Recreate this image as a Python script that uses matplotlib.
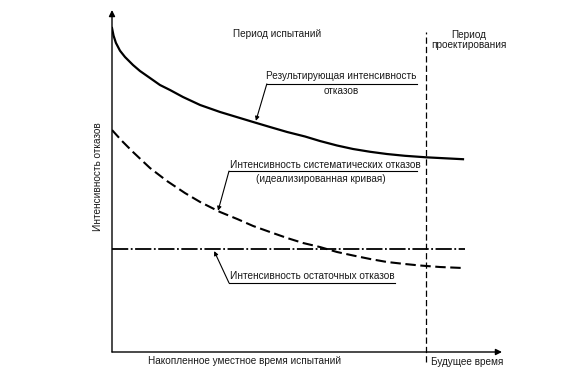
import matplotlib
matplotlib.use("Agg")
import matplotlib.pyplot as plt

plt.rcParams['font.family'] = ['Liberation Sans', 'DejaVu Sans']

# resulting failure intensity (solid)
total_t = [0, 0.04, 0.1, 0.205, 0.333, 0.538, 0.718, 0.974, 1.23, 1.487, 1.82, 2.26, 2.77, 3.28,
           3.62, 4.05, 4.49, 4.95, 5.33, 5.77, 6.18, 6.62, 7.05, 7.51, 8.05, 8.54, 9.0]
total_y = [9.474, 9.25, 9.04, 8.810, 8.626, 8.392, 8.216, 8.012, 7.807, 7.661, 7.456, 7.222,
           7.018, 6.842, 6.725, 6.579, 6.433, 6.301, 6.170, 6.038, 5.936, 5.854, 5.789, 5.737,
           5.693, 5.664, 5.637]

# systematic failures, idealised (dashed)
sys_t = [0, 0.256, 0.538, 0.974, 1.41, 1.87, 2.26, 2.77, 3.21, 3.62, 4.05, 4.49, 4.9, 5.33,
         5.77, 6.18, 6.62, 7.05, 7.51, 7.9, 8.41, 9.0]
sys_y = [6.491, 6.170, 5.848, 5.380, 5.0, 4.649, 4.386, 4.094, 3.889, 3.684, 3.509, 3.333,
         3.187, 3.070, 2.924, 2.822, 2.719, 2.632, 2.573, 2.529, 2.485, 2.456]

# residual failures (dash-dot)
resid_t = [0, 9.05]
resid_y = [3.01, 3.01]

# end of test period
split_t = 8.05

fig = plt.figure(figsize=(5.85, 3.71), dpi=100)
ax = fig.add_axes([112 / 585, 19 / 371, 390 / 585, 342 / 371])
ax.set_xlim(0, 10)
ax.set_ylim(0, 10)
ax.axis('off')

txt = '#1a1a1a'
fs = 7.2

# axes with arrows
ax.annotate('', xy=(0, 10), xytext=(0, 0), annotation_clip=False,
            arrowprops=dict(arrowstyle='-|>', color='black', lw=1.0,
                            mutation_scale=9, shrinkA=0, shrinkB=0))
ax.annotate('', xy=(10, 0), xytext=(0, 0), annotation_clip=False,
            arrowprops=dict(arrowstyle='-|>', color='black', lw=1.0,
                            mutation_scale=9, shrinkA=0, shrinkB=0))

ax.plot(total_t, total_y, color='black', lw=1.6)
ax.plot(sys_t, sys_y, color='black', lw=1.5, dashes=(5, 2.2))
ax.plot(resid_t, resid_y, color='black', lw=1.3, dashes=(9, 1.4, 1, 1.4))
ax.plot([split_t, split_t], [-0.29, 9.36], color='black', lw=0.9,
        dashes=(5, 2.5), clip_on=False)

ax.text(4.23, 9.30, 'Период испытаний', ha='center', va='center', fontsize=fs, color=txt)
ax.text(9.15, 9.12, 'Период\nпроектирования', ha='center', va='center',
        fontsize=fs, color=txt, linespacing=1.1)

arrow = dict(arrowstyle='-|>', color='black', lw=0.8, mutation_scale=6,
             shrinkA=0, shrinkB=0)

ax.text(3.95, 8.07, 'Результирующая интенсивность', ha='left', va='center',
        fontsize=fs, color=txt)
ax.plot([3.97, 7.82], [7.84, 7.84], color='black', lw=0.8)
ax.text(5.87, 7.64, 'отказов', ha='center', va='center', fontsize=fs, color=txt)
ax.annotate('', xy=(3.69, 6.76), xytext=(3.97, 7.84), arrowprops=arrow)

ax.text(3.03, 5.47, 'Интенсивность систематических отказов', ha='left', va='center',
        fontsize=fs, color=txt)
ax.plot([3.0, 7.82], [5.29, 5.29], color='black', lw=0.8)
ax.text(5.36, 5.06, '(идеализированная кривая)', ha='center', va='center',
        fontsize=fs, color=txt)
ax.annotate('', xy=(2.72, 4.13), xytext=(3.0, 5.29), arrowprops=arrow)

ax.text(3.03, 2.22, 'Интенсивность остаточных отказов', ha='left', va='center',
        fontsize=fs, color=txt)
ax.plot([3.0, 7.26], [2.02, 2.02], color='black', lw=0.8)
ax.annotate('', xy=(2.62, 2.95), xytext=(3.0, 2.02), arrowprops=arrow)

ax.text(3.41, -0.26, 'Накопленное уместное время испытаний', ha='center', va='center',
        fontsize=fs, color=txt)
ax.text(9.1, -0.29, 'Будущее время', ha='center', va='center', fontsize=fs, color=txt)
ax.text(-0.36, 5.12, 'Интенсивность отказов', ha='center', va='center',
        rotation=90, fontsize=fs, color=txt)

fig.savefig('out.png', dpi=100, facecolor='white')
